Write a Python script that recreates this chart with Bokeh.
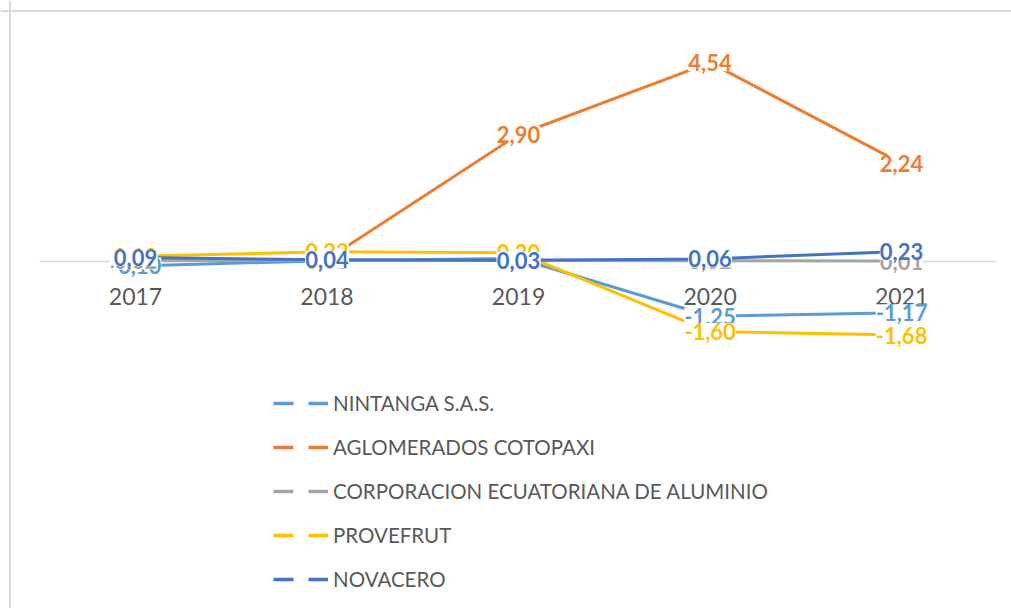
import math
from bokeh.plotting import figure
from bokeh.models import ColumnDataSource, Span, Legend, LegendItem, Range1d
from bokeh.core.properties import value
from bokeh.embed import file_html
from bokeh.resources import INLINE

years = ["2017", "2018", "2019", "2020", "2021"]
series_names = ["NINTANGA S.A.S.", "AGLOMERADOS COTOPAXI",
                "CORPORACION ECUATORIANA DE ALUMINIO", "PROVEFRUT", "NOVACERO"]
nintanga = [-0.10, 0.02, 0.07, -1.25, -1.17]
aglomerados = [0.02, 0.05, 2.90, 4.54, 2.24]
corporacion = [0.02, 0.03, 0.03, 0.02, 0.01]
provefrut = [0.12, 0.22, 0.20, -1.60, -1.68]
novacero = [0.09, 0.04, 0.03, 0.06, 0.23]
colors = ["#5B9BD5", "#ED7D31", "#A5A5A5", "#FFC000", "#4472C4"]
all_series = [nintanga, aglomerados, corporacion, provefrut, novacero]

FONT = "Lato"
xs = list(range(len(years)))

p = figure(width=1011, height=608, output_backend="svg", toolbar_location=None,
           x_range=Range1d(-0.705, 4.574), y_range=Range1d(-7.922, 5.959),
           min_border=0)
p.xaxis.visible = False
p.yaxis.visible = False
p.xgrid.visible = False
p.ygrid.visible = False
p.outline_line_color = None
p.background_fill_color = "white"
p.border_fill_color = "white"

# chart-area border (left and top visible)
p.add_layout(Span(location=-0.6554, dimension="height", line_color="#D9D9D9", line_width=2))
p.add_layout(Span(location=5.719, dimension="width", line_color="#D9D9D9", line_width=2))

# category axis crossing at zero
p.segment(x0=[-0.5], y0=[0], x1=[len(years) - 0.5], y1=[0], line_color="#D9D9D9", line_width=1.5)
p.text(x=xs, y=[0] * len(years), text=years, y_offset=35,
       text_align="center", text_baseline="middle",
       text_font=value(FONT), text_font_size="23px", text_color="#595959")

for vals, col in zip(all_series, colors):
    p.line(x=xs, y=vals, line_color=col, line_width=3, line_join="round")

for vals, col in zip(all_series, colors):
    labels = [f"{v:.2f}".replace(".", ",") for v in vals]
    src = ColumnDataSource(dict(x=xs, y=vals, t=labels))
    p.text(x="x", y="y", text="t", source=src, text_align="center", text_baseline="middle",
           text_font=value(FONT), text_font_size="22px", text_font_style="bold",
           text_color=col, background_fill_color="white", padding=0)

items = []
for name, col in zip(series_names, colors):
    r = p.line(x=xs, y=[math.nan] * len(xs), line_color=col, line_width=3.5, line_dash="20 15")
    items.append(LegendItem(label=name, renderers=[r]))

legend = Legend(items=items, location=(273, 16), orientation="vertical",
                glyph_width=55, glyph_height=26, label_height=26, spacing=18,
                label_standoff=5, padding=0, margin=0,
                label_text_font=FONT, label_text_font_size="20.5px", label_text_color="#595959",
                background_fill_alpha=0, border_line_color=None)
p.add_layout(legend, "center")

open("out.html", "w").write(file_html(p, INLINE))
